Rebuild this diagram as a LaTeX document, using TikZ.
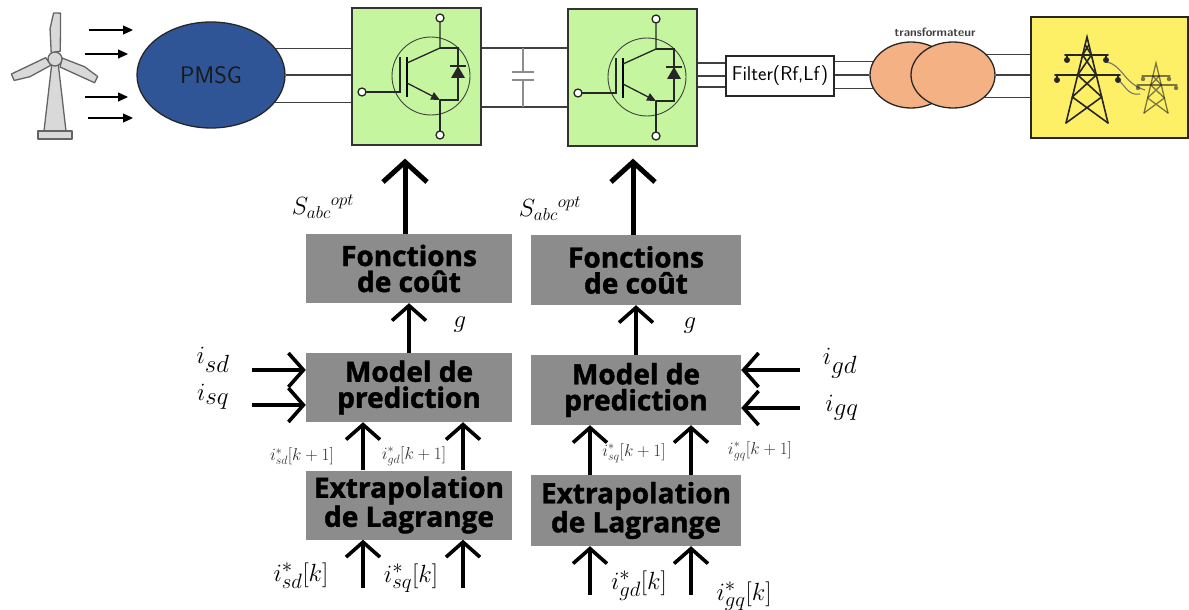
\documentclass[tikz,border=0pt]{standalone}
\usepackage{fontspec}
\newfontfamily\opensans{Open Sans}[BoldFeatures={FakeBold=1.5}]
\usetikzlibrary{arrows.meta,shapes.geometric,calc}
\definecolor{convgreen}{RGB}{198,245,160}
\definecolor{pmsgblue}{RGB}{47,85,151}
\definecolor{trafo}{RGB}{244,177,131}
\definecolor{gridyellow}{RGB}{254,240,102}
\definecolor{ctrlgray}{RGB}{140,140,140}
\definecolor{wire}{RGB}{64,64,64}
\definecolor{turb}{RGB}{217,217,217}
\definecolor{turbline}{RGB}{100,100,100}

\tikzset{
  ctrlbox/.style={fill=ctrlgray, draw=none, minimum width=206pt, minimum height=69pt,
    inner sep=0pt, align=center, font=\opensans\bfseries\fontsize{28}{26}\selectfont},
  convbox/.style={fill=convgreen, draw=black!80, line width=1.2pt, minimum width=129pt,
    minimum height=137pt, inner sep=0pt},
  phase/.style={draw=wire, line width=1.2pt},
  bigarrow/.style={line width=5pt, -{Straight Barb[length=20pt,width=44pt]}},
  medarrow/.style={line width=3.6pt, -{Straight Barb[length=15pt,width=34pt]}},
  windarrow/.style={line width=1.2pt, -{Triangle[length=10pt,width=9pt]}},
  biglabel/.style={inner sep=0pt, font=\fontsize{34}{36}\selectfont},
  slabel/.style={inner sep=0pt, font=\fontsize{26}{28}\selectfont},
  klabel/.style={inner sep=0pt, font=\fontsize{32}{34}\selectfont},
  smalllabel/.style={inner sep=0pt, text=black!80, font=\fontsize{17.5}{19}\selectfont},
  tower/.style={line width=1.6pt, draw=black!85, line cap=round},
  igbtline/.style={line width=1.3pt, draw=black!85},
  igbt/.pic={
    \draw[line width=0.9pt, draw=black!75] (0,0) circle (39);
    % gate
    \draw[igbtline] (-65,16) -- (-31,16) -- (-31,-19);
    \draw[igbtline, fill=white] (-69,16) circle (4);
    \draw[line width=2pt] (-24,-19) -- (-24,21);
    % collector
    \draw[igbtline] (-24,-13) -- (9,-28) -- (9,-54);
    \draw[igbtline, fill=white] (9,-58) circle (4);
    % emitter
    \draw[igbtline, -{Triangle[length=9pt,width=8pt]}] (-24,7) -- (9,24);
    \draw[igbtline] (9,24) -- (9,55);
    \draw[igbtline, fill=white] (9,59) circle (4);
    % freewheel diode
    \draw[igbtline] (9,-28) -- (27,-28) -- (27,24) -- (9,24);
    \fill[black!85] (20,2) -- (34,2) -- (27,-10) -- cycle;
    \draw[igbtline] (19,-10) -- (35,-10);
  }
}

\begin{document}
\begin{tikzpicture}[x=1pt,y=-1pt]
\useasboundingbox (0,0) rectangle (1189,610);
\fill[white] (0,0) rectangle (1189,610);

% ---------- wind turbine ----------
\begin{scope}[fill=turb, draw=turbline, line width=1.3pt, line join=round]
  \filldraw (44,131) -- (66,131) -- (58,62) -- (52,62) -- cycle;
  \filldraw (38,131) rectangle (72,139);
  \foreach \r in {-2,114,244}{
    \filldraw[shift={(55,59)}, rotate=\r] (-4,-6) -- (-6,-30) -- (-3,-46) -- (4,-46) -- (5,-8) -- cycle;
  }
  \filldraw (55,59) circle (7);
\end{scope}

\coordinate (w1) at (89,30);
\coordinate (w2) at (85,54);
\coordinate (w3) at (85,97);
\coordinate (w4) at (88,118);

% ---------- generator ----------
\node[ellipse, fill=pmsgblue, draw=black!85, line width=1.3pt, minimum width=148pt,
  minimum height=106pt, inner sep=0pt, text=black!90,
  font=\sffamily\fontsize{24}{26}\selectfont] (pm) at (211,75) {PMSG};

\draw[windarrow] (w1) -- ++(44,0);
\draw[windarrow] (w2) -- ++(43,0);
\draw[windarrow] (w3) -- ++(43,0);
\draw[windarrow] (w4) -- ++(45,0);

% ---------- converters ----------
\node[convbox] (conv1) at (416.5,76.5) {};
\node[convbox] (conv2) at (632.5,77.5) {};
\pic at (431,76) {igbt};
\pic at (647,77) {igbt};

\draw[phase] (pm.22) -- (pm.22 -| conv1.west);
\draw[phase] (pm.east) -- (pm.east -| conv1.west);
\draw[phase] (pm.-23) -- (pm.-23 -| conv1.west);

% DC link with capacitor
\coordinate (dcp) at (523,48);
\coordinate (dcn) at (523,107);
\draw[phase] (dcp -| conv1.east) -- (dcp -| conv2.west);
\draw[phase] (dcn -| conv1.east) -- (dcn -| conv2.west);
\draw[line width=1.2pt, draw=black!45] (dcp) -- (523,72) (512,72) -- (534,72)
  (512,80) -- (534,80) (523,80) -- (dcn);

% ---------- filter ----------
\node[draw=black!85, fill=white, line width=1.2pt, minimum width=108pt, minimum height=40pt,
  inner sep=0pt, font=\sffamily\fontsize{20}{22}\selectfont] (filt) at (780,76) {Filter(Rf,Lf)};
\coordinate (f1) at ($(filt.west)+(0,-13)$);
\coordinate (f3) at ($(filt.west)+(0,11)$);
\draw[phase] (f1 -| conv2.east) -- (f1);
\draw[phase] (filt.west -| conv2.east) -- (filt.west);
\draw[phase] (f3 -| conv2.east) -- (f3);

% ---------- transformer ----------
\node[ellipse, fill=trafo, draw=black!85, line width=1.3pt, minimum width=82pt,
  minimum height=66pt, inner sep=0pt] (tl) at (911,75) {};
\node[ellipse, fill=trafo, draw=black!85, line width=1.3pt, minimum width=84pt,
  minimum height=66pt, inner sep=0pt] (tr) at (953,75) {};
\node[text=black!75, font=\sffamily\bfseries\fontsize{12}{13}\selectfont] (tlab) at (935,32) {transformateur};
\draw[phase] (tl.161 -| filt.east) -- (tl.161);
\draw[phase] (tl.west -| filt.east) -- (tl.west);
\draw[phase] (tl.199 -| filt.east) -- (tl.199);

% ---------- grid ----------
\node[fill=gridyellow, draw=black!85, line width=1.3pt, minimum width=157pt,
  minimum height=121pt, inner sep=0pt] (grid) at (1109.5,77.5) {};
\draw[phase] (tr.31) -- (tr.31 -| grid.west);
\draw[phase] (tr.east) -- (tr.east -| grid.west);
\draw[phase] (tr.-36) -- (tr.-36 -| grid.west);

% transmission towers
\draw[line width=1.1pt, draw=black!55]
  (1106,62) .. controls (1122,64) and (1124,84) .. (1145,90)
  (1118,80) .. controls (1126,86) and (1128,96) .. (1140,94);
\begin{scope}[tower]
  \draw (1066,123) -- (1087,37) -- (1108,123);
  \draw (1065,55) -- (1108,55) (1055,75) -- (1120,75);
  \draw (1082.6,55) -- (1096.3,75) (1091.4,55) -- (1077.7,75)
        (1077.7,75) -- (1101.7,97) (1096.3,75) -- (1072.3,97)
        (1072.3,97) -- (1108,123) (1101.7,97) -- (1066,123)
        (1085.2,45) -- (1091.4,55) (1088.8,45) -- (1082.6,55);
  \foreach \p in {(1067,55),(1106,55),(1057,75),(1118,75)}{
    \draw \p -- ++(0,4);
    \fill[black!85] \p ++(0,5) circle (3);
  }
\end{scope}
\begin{scope}[tower, draw opacity=0.6, fill opacity=0.6, line width=1.3pt]
  \draw (1144,113) -- (1156,63) -- (1168,113);
  \draw (1142,76) -- (1170,76) (1137,85) -- (1177,85);
  \draw (1152.9,76) -- (1161.3,85) (1159.1,76) -- (1150.7,85)
        (1150.7,85) -- (1164.4,98) (1161.3,85) -- (1147.6,98)
        (1147.6,98) -- (1168,113) (1164.4,98) -- (1144,113);
  \foreach \p in {(1143,76),(1169,76),(1138,85),(1176,85)}{
    \fill[black!85] \p ++(0,3) circle (2.2);
  }
\end{scope}

% ---------- control, generator side ----------
\node[ctrlbox] (fc1) at (409,268.5) {Fonctions\\de coût};
\node[ctrlbox] (mp1) at (409,387.5) {Model de\\prediction};
\node[ctrlbox] (ex1) at (409,505) {Extrapolation\\de Lagrange};

\draw[bigarrow, shorten >=13pt] ($(fc1.north)+(-4,0)$) -- ($(fc1.north |- conv1.south)+(-4,0)$);
\node[slabel] (s1) at (323,207) {$S_{abc}{}^{opt}$};
\draw[medarrow] (mp1.north) -- (fc1.south);
\node[biglabel] (g1) at (460,325) {$g$};

\node[biglabel] (isd) at (213,360) {$i_{sd}$};
\node[biglabel] (isq) at (213,397) {$i_{sq}$};
\coordinate (isdS) at (252,370);
\coordinate (isqS) at (252,405);
\draw[medarrow] (isdS) -- (isdS -| mp1.west);
\draw[medarrow] (isqS) -- (isqS -| mp1.west);

\coordinate (a1) at (363,0);
\coordinate (b1) at (463,0);
\draw[medarrow] (ex1.north -| a1) -- (mp1.south -| a1);
\draw[medarrow] (ex1.north -| b1) -- (mp1.south -| b1);
\node[smalllabel] (l1) at (302,456) {$i^{*}_{sd}[k+1]$};
\node[smalllabel] (l2) at (414,456) {$i^{*}_{gd}[k+1]$};

\coordinate (c1) at (363,588);
\coordinate (d1) at (463,588);
\draw[medarrow] (c1) -- (c1 |- ex1.south);
\draw[medarrow] (d1) -- (d1 |- ex1.south);
\node[klabel] (k1) at (301,576) {$i^{*}_{sd}[k]$};
\node[klabel] (k2) at (411,578) {$i^{*}_{sq}[k]$};

% ---------- control, grid side ----------
\node[ctrlbox, minimum width=210pt, minimum height=70pt] (fc2) at (636,270) {Fonctions\\de coût};
\node[ctrlbox, minimum width=210pt, minimum height=70pt] (mp2) at (636,390) {Model de\\prediction};
\node[ctrlbox, minimum width=210pt, minimum height=71pt] (ex2) at (636,510.5) {Extrapolation\\de Lagrange};

\draw[bigarrow, shorten >=12pt] ($(fc2.north)+(-3,0)$) -- ($(fc2.north |- conv2.south)+(-3,0)$);
\node[slabel] (s2) at (550,209) {$S_{abc}{}^{opt}$};
\draw[medarrow] (mp2.north) -- (fc2.south);
\node[biglabel] (g2) at (690,326) {$g$};

\node[biglabel] (igd) at (840,363) {$i_{gd}$};
\node[biglabel] (igq) at (842,408) {$i_{gq}$};
\coordinate (igdS) at (800,370);
\coordinate (igqS) at (800,408);
\draw[medarrow] (igdS) -- (igdS -| mp2.east);
\draw[medarrow] (igqS) -- (igqS -| mp2.east);

\coordinate (a2) at (590,0);
\coordinate (b2) at (691,0);
\draw[medarrow] (ex2.north -| a2) -- (mp2.south -| a2);
\draw[medarrow] (ex2.north -| b2) -- (mp2.south -| b2);
\node[smalllabel] (l3) at (634,453) {$i^{*}_{sq}[k+1]$};
\node[smalllabel] (l4) at (760,451) {$i^{*}_{gq}[k+1]$};

\coordinate (c2) at (590,595);
\coordinate (d2) at (691,595);
\draw[medarrow] (c2) -- (c2 |- ex2.south);
\draw[medarrow] (d2) -- (d2 |- ex2.south);
\node[klabel] (k3) at (639,586) {$i^{*}_{gd}[k]$};
\node[klabel] (k4) at (744,596) {$i^{*}_{gq}[k]$};
\end{tikzpicture}
\end{document}
